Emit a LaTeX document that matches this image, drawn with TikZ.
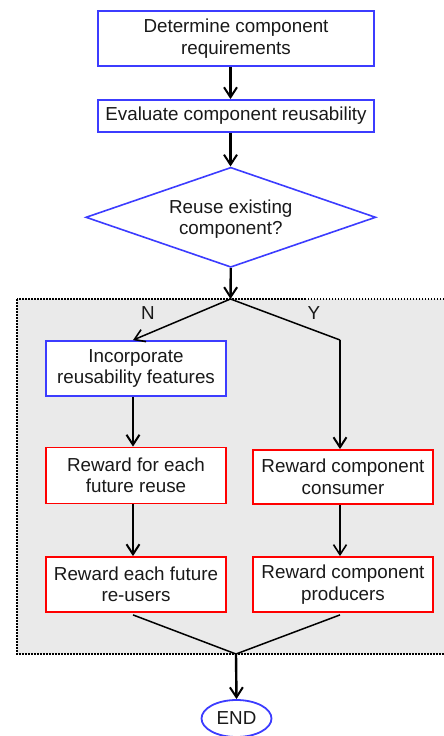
\documentclass[tikz,border=0pt]{standalone}
\usepackage{fontspec}
\setmainfont{Liberation Sans}
\usetikzlibrary{shapes.geometric,arrows.meta}
\definecolor{fblue}{RGB}{60,60,255}
\definecolor{fred}{RGB}{255,0,0}
\definecolor{fgray}{RGB}{234,234,234}
\tikzset{
  x=1pt,y=1pt,
  every node/.style={font=\fontsize{18.8pt}{21.5pt}\selectfont, text=black!90},
  bbox/.style={draw=fblue, line width=1.8pt, fill=white, align=center, inner sep=0pt},
  rbox/.style={draw=fred, line width=1.8pt, fill=white, align=center, inner sep=0pt, minimum width=180pt},
  thk/.style={line width=2.4pt, -{Straight Barb[length=10pt,width=13pt,line width=2pt]}},
  thn/.style={line width=1.5pt},
  thnarr/.style={line width=1.5pt, -{Straight Barb[length=10pt,width=13pt,line width=1.6pt]}},
}
\begin{document}
\begin{tikzpicture}
\useasboundingbox (0,0) rectangle (444,-736);
% grouping region
\fill[fgray] (17,-299) rectangle (450,-654);
\draw[line width=1.5pt, dash pattern=on 1.5pt off 1.5pt] (17,-299) rectangle (450,-654);

\node[bbox, minimum width=276pt, minimum height=55pt] (b1) at (236,-38.5) {Determine component\\requirements};
\node[bbox, minimum width=276pt, minimum height=32pt] (b2) at (236,-116) {Evaluate component reusability};
\node[draw=fblue, line width=1.6pt, fill=white, shape=diamond, inner sep=0pt, minimum width=290pt, minimum height=100pt] (dec) at (230.8,-217.3) {};
\node[align=center] (dect) at (230.8,-219) {Reuse existing\\component?};

\coordinate (split) at (230.5,-299);
\coordinate (lcol) at (133,-340);
\coordinate (ycorner) at (340,-340);
\coordinate (merge) at (236,-654);

\node[bbox, minimum width=180pt, minimum height=55pt] (inc) at (136,-368.5) {Incorporate\\reusability features};
\node[rbox, minimum height=56pt] (rf) at (136,-475.5) {Reward for each\\future reuse};
\node[rbox, minimum height=54pt] (rc) at (343,-477) {Reward component\\consumer};
\node[rbox, minimum height=55pt] (re) at (136,-584.5) {Reward each future\\re-users};
\node[rbox, minimum height=55pt] (rp) at (343,-584.5) {Reward component\\producers};

\node[draw=fblue, line width=1.8pt, fill=white, shape=ellipse, inner sep=0pt, minimum width=70pt, minimum height=37pt] (end) at (236.5,-718.5) {END};

\node (nlab) at (148,-313) {N};
\node (ylab) at (314,-313) {Y};

\draw[thk] (b1.south -| split) -- (b2.north -| split);
\draw[thk] (b2.south -| split) -- (dec.north -| split);
\draw[thk] (dec.south) -- (split);
\draw[thnarr] (split) -- (inc.north -| lcol);
\draw[thn] (split) -- (ycorner);
\draw[thk] (ycorner) -- (rc.north -| ycorner);
\draw[thk] (inc.south -| lcol) -- (rf.north -| lcol);
\draw[thk] (rf.south -| lcol) -- (re.north -| lcol);
\draw[thnarr] (rc.south -| ycorner) -- (rp.north -| ycorner);
\draw[thn] ([yshift=-2pt]re.south -| lcol) -- (merge);
\draw[thn] ([yshift=-2pt]rp.south -| ycorner) -- (merge);
\draw[thk] (merge) -- (end.north);
\end{tikzpicture}
\end{document}
